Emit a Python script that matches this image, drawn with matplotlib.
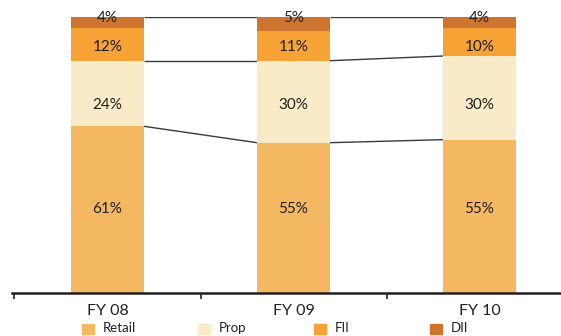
import matplotlib
matplotlib.use("Agg")
import matplotlib.pyplot as plt
import numpy as np
from matplotlib.patches import Rectangle

categories = ["FY 08", "FY 09", "FY 10"]
series_names = ["Retail", "Prop", "FII", "DII"]
retail = [61, 55, 55]
prop = [24, 30, 30]
fii = [12, 11, 10]
dii = [4, 5, 4]
colors = ["#F5B862", "#FAEBC8", "#F6A235", "#CD7431"]

# fixed label heights per series (axis %), as in the original layout
label_heights = [30.6, 68.1, 89.3, 99.5]

plt.rcParams['font.family'] = ['Lato', 'DejaVu Sans']

W, H = 561, 336
fig = plt.figure(figsize=(W / 100, H / 100), dpi=100)
ax = fig.add_axes([12 / W, (H - 293) / H, (W - 12) / W, (293 - 17) / H])

raw = np.array([retail, prop, fii, dii], dtype=float)
totals = raw.sum(axis=0)
norm = raw / totals * 100
x = np.arange(len(categories))
bw = 0.392

bottom = np.zeros(len(categories))
tops = []
for i, name in enumerate(series_names):
    ax.bar(x, norm[i], bw, bottom=bottom, color=colors[i], edgecolor='none', zorder=2)
    for j in range(len(categories)):
        ax.text(x[j], label_heights[i], f"{int(raw[i][j])}%", ha='center', va='center',
                fontsize=11, color='#231f20', zorder=3, clip_on=False)
    bottom = bottom + norm[i]
    tops.append(bottom.copy())

# series lines: top of Retail, top of Prop, top of stack
for level in [tops[0], tops[1], tops[3]]:
    for j in range(len(categories) - 1):
        ax.plot([x[j] + bw / 2, x[j + 1] - bw / 2], [level[j], level[j + 1]],
                color='#3a3a3a', lw=1.0, zorder=1, solid_capstyle='butt')

ax.set_ylim(0, 100)
ax.set_xlim(-0.5134, 2.438)

ax.set_xticks(np.r_[-0.5, x[:-1] + 0.5])
ax.set_xticklabels([])
ax.set_xticks(x, minor=True)
ax.set_xticklabels(categories, minor=True, fontsize=11.5, color='#231f20')
ax.tick_params(axis='x', which='major', length=4, width=1.2, color='#231f20', direction='out')
ax.tick_params(axis='x', which='minor', length=0, pad=8)
ax.set_yticks([])
for s in ['top', 'right', 'left']:
    ax.spines[s].set_visible(False)
ax.spines['bottom'].set_linewidth(1.8)
ax.spines['bottom'].set_color('#231f20')

# legend with fixed column spacing
for i, name in enumerate(series_names):
    x0 = 82 + i * 116
    fig.patches.append(Rectangle((x0 / W, (H - 334) / H), 12 / W, 10 / H,
                                 transform=fig.transFigure, color=colors[i]))
    fig.text((x0 + 21) / W, (H - 332) / H, name, ha='left', va='baseline',
             fontsize=9.5, color='#231f20')

fig.savefig("out.png", dpi=100)
